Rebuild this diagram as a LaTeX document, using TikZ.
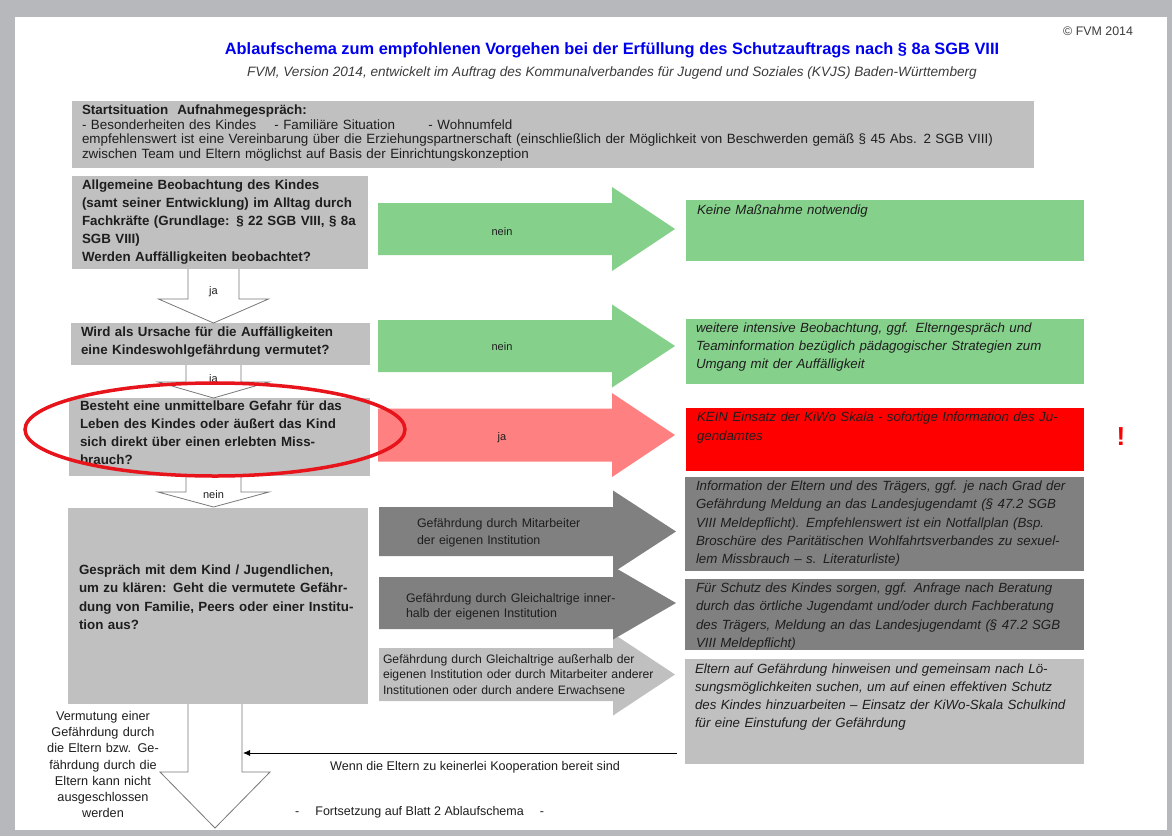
\documentclass[tikz,border=0pt]{standalone}
\usepackage{fontspec}
\setmainfont{Liberation Sans}
\usetikzlibrary{calc,arrows.meta}
\definecolor{pagebg}{RGB}{182,184,188}
\definecolor{lgray}{RGB}{192,192,192}
\definecolor{dgray}{RGB}{128,128,128}
\definecolor{lgreen}{RGB}{133,208,139}
\definecolor{lred}{RGB}{255,128,128}
\definecolor{bred}{RGB}{255,0,0}
\definecolor{ttl}{RGB}{0,0,240}
\definecolor{txt}{RGB}{30,30,30}
\definecolor{subc}{RGB}{60,60,60}
\definecolor{ellred}{RGB}{232,20,27}
\definecolor{outl}{RGB}{120,120,120}
\newcommand\fs[2]{\fontsize{#1}{#2}\selectfont}
\newcommand\harrow[6]{\fill[#6] ($(#1)+(0,-#3)$) -- ($(#2)+(-#5,-#3)$) -- ($(#2)+(-#5,-#4)$) -- (#2) -- ($(#2)+(-#5,#4)$) -- ($(#2)+(-#5,#3)$) -- ($(#1)+(0,#3)$) -- cycle;}
\newcommand\varrow[5]{\path[downarrow] ($(#1)+(-#3,0)$) -- ($(#2)+(-#3,-#5)$) -- ($(#2)+(-#4,-#5)$) -- (#2) -- ($(#2)+(#4,-#5)$) -- ($(#2)+(#3,-#5)$) -- ($(#1)+(#3,0)$);}
\begin{document}
\begin{tikzpicture}[x=1pt,y=-1pt,
 panel/.style={fill=#1,draw=none,anchor=north west,inner sep=0,outer sep=0},
 tx/.style={anchor=base west,inner sep=0,outer sep=0,align=left,text width=#1,text=txt},
 bx/.style={tx=#1,font=\bfseries\fs{13.35}{18}},
 rx/.style={tx=#1,font=\itshape\fs{13.3}{18.3}},
 gx/.style={tx=#1,font=\fs{12.4}{16}},
 lbl/.style={anchor=base,inner sep=0,outer sep=0,font=\fs{11}{13},text=txt},
 downarrow/.style={fill=white,draw=outl,line width=0.8pt},
]
\useasboundingbox (0,0) rectangle (1172,836);
\fill[pagebg] (0,0) rectangle (1172,836);
\fill[white] (15,17) rectangle (1167,830);

% header
\node[anchor=base,inner sep=0,font=\bfseries\fs{16.4}{19},text=ttl] (title) at (612,54) {Ablaufschema zum empfohlenen Vorgehen bei der Erfüllung des Schutzauftrags nach § 8a SGB VIII};
\node[anchor=base,inner sep=0,font=\itshape\fs{13.6}{16},text=subc] (subtitle) at (612,76.5) {FVM, Version 2014, entwickelt im Auftrag des Kommunalverbandes für Jugend und Soziales (KVJS) Baden-Württemberg};
\node[anchor=base west,inner sep=0,font=\fs{12.4}{14},text=subc] (copy) at (1063,35) {© FVM 2014};

% panels
\node[panel=lgray,minimum width=962,minimum height=67] (S) at (72,101) {};
\node[panel=lgray,minimum width=296,minimum height=93] (A) at (72,176) {};
\node[panel=lgray,minimum width=299,minimum height=42] (B) at (71,323) {};
\node[panel=lgray,minimum width=301,minimum height=78] (C) at (69,398) {};
\node[panel=lgray,minimum width=300,minimum height=196] (D) at (68,508) {};
\node[panel=lgreen,minimum width=398,minimum height=61] (R1) at (686,200) {};
\node[panel=lgreen,minimum width=398,minimum height=65] (R2) at (686,319) {};
\node[panel=bred,minimum width=398,minimum height=63] (R3) at (686,408) {};
\node[panel=dgray,minimum width=399,minimum height=94] (R4) at (685,477) {};
\node[panel=dgray,minimum width=399,minimum height=71] (R5) at (685,579) {};
\node[panel=lgray,minimum width=399,minimum height=105] (R6) at (685,659) {};

% horizontal block arrows
\coordinate (g1s) at (378,229); \coordinate (g1t) at (675,229);
\coordinate (g2s) at (378,346); \coordinate (g2t) at (675,346);
\coordinate (r1s) at (378,435); \coordinate (r1t) at (675,435);
\coordinate (d1s) at (379,531.5); \coordinate (d1t) at (676,531.5);
\coordinate (d2s) at (379,603); \coordinate (d2t) at (676,603);
\coordinate (l3s) at (379,674.5); \coordinate (l3t) at (675,674.5);
\harrow{g1s}{g1t}{26}{42}{63}{lgreen}
\harrow{g2s}{g2t}{26}{41.5}{63}{lgreen}
\harrow{r1s}{r1t}{26.5}{42}{63}{lred}
\harrow{l3s}{l3t}{26.5}{41}{62}{lgray}
\harrow{d2s}{d2t}{26}{36.5}{63}{dgray}
\harrow{d1s}{d1t}{24.5}{41}{63}{dgray}

% down block arrows
\coordinate (a1s) at (213.5,269); \coordinate (a1t) at (213.5,323);
\coordinate (a2s) at (213.5,365); \coordinate (a2t) at (213.5,398);
\coordinate (a3s) at (213.5,476); \coordinate (a3t) at (213.5,507);
\coordinate (a4s) at (215,704); \coordinate (a4t) at (215,828);
\varrow{a1s}{a1t}{25.5}{55}{24}
\varrow{a2s}{a2t}{27.5}{55.5}{16}
\varrow{a3s}{a3t}{27.5}{55.5}{15}
\varrow{a4s}{a4t}{27}{55}{56}

% labels on arrows
\node[lbl] (ln1) at (502,235) {nein};
\node[lbl] (ln2) at (502,350) {nein};
\node[lbl] (lj3) at (502,440) {ja};
\node[lbl] (lj1) at (213.5,294) {ja};
\node[lbl] (lj2) at (213.5,382) {ja};
\node[lbl] (ln3) at (213.5,498) {nein};

% texts in panels
\node[tx=950,font=\fs{13.4}{14.6}] (Stext) at (82,114.5) {\textbf{Startsituation\ \ Aufnahmegespräch:}\\- Besonderheiten des Kindes\hspace{1.35em}- Familiäre Situation\hspace{2.5em}- Wohnumfeld\\empfehlenswert ist eine Vereinbarung über die Erziehungspartnerschaft (einschließlich der Möglichkeit von Beschwerden gemäß § 45 Abs. 2 SGB VIII)\\zwischen Team und Eltern möglichst auf Basis der Einrichtungskonzeption};
\node[bx=290] (Atext) at (82,189.5) {Allgemeine Beobachtung des Kindes\\(samt seiner Entwicklung) im Alltag durch\\Fachkräfte (Grundlage: § 22 SGB VIII, § 8a\\SGB VIII)\\Werden Auffälligkeiten beobachtet?};
\node[bx=290] (Btext) at (81,336.5) {Wird als Ursache für die Auffälligkeiten\\eine Kindeswohlgefährdung vermutet?};
\node[bx=290] (Ctext) at (80,410.5) {Besteht eine unmittelbare Gefahr für das\\Leben des Kindes oder äußert das Kind\\sich direkt über einen erlebten Miss-\\brauch?};
\node[tx=290,font=\bfseries\fs{13.35}{18.3}] (Dtext) at (79,574.5) {Gespräch mit dem Kind / Jugendlichen,\\um zu klären: Geht die vermutete Gefähr-\\dung von Familie, Peers oder einer Institu-\\tion aus?};

\node[rx=385] (R1text) at (697,214.5) {Keine Maßnahme notwendig};
\node[rx=385,font=\itshape\fs{13.3}{18}] (R2text) at (696,332.5) {weitere intensive Beobachtung, ggf. Elterngespräch und\\Teaminformation bezüglich pädagogischer Strategien zum\\Umgang mit der Auffälligkeit};
\node[rx=385,font=\itshape\fs{13.3}{19}] (R3text) at (697,421.5) {KEIN Einsatz der KiWo Skala - sofortige Information des Ju-\\gendamtes};
\node[rx=385] (R4text) at (696,490.5) {Information der Eltern und des Trägers, ggf. je nach Grad der\\Gefährdung Meldung an das Landesjugendamt (§ 47.2 SGB\\VIII Meldepflicht). Empfehlenswert ist ein Notfallplan (Bsp.\\Broschüre des Paritätischen Wohlfahrtsverbandes zu sexuel-\\lem Missbrauch – s. Literaturliste)};
\node[rx=385] (R5text) at (696,592.5) {Für Schutz des Kindes sorgen, ggf. Anfrage nach Beratung\\durch das örtliche Jugendamt und/oder durch Fachberatung\\des Trägers, Meldung an das Landesjugendamt (§ 47.2 SGB\\VIII Meldepflicht)};
\node[rx=385,font=\itshape\fs{13.3}{18}] (R6text) at (695,673.5) {Eltern auf Gefährdung hinweisen und gemeinsam nach Lö-\\sungsmöglichkeiten suchen, um auf einen effektiven Schutz\\des Kindes hinzuarbeiten – Einsatz der KiWo-Skala Schulkind\\für eine Einstufung der Gefährdung};

\node[anchor=center,inner sep=0,font=\bfseries\fs{26}{30},text=bred] (bang) at (1121,437) {!};

% texts in gray arrows
\node[gx=250,font=\fs{12.4}{17}] (D1text) at (417,527) {Gefährdung durch Mitarbeiter\\der eigenen Institution};
\node[gx=250,font=\fs{12.4}{15.5}] (D2text) at (406,602) {Gefährdung durch Gleichaltrige inner-\\halb der eigenen Institution};
\node[gx=290,font=\fs{12.2}{15.5}] (L3text) at (383,663) {Gefährdung durch Gleichaltrige außerhalb der\\eigenen Institution oder durch Mitarbeiter anderer\\Institutionen oder durch andere Erwachsene};

% bottom
\node[tx=130,align=center,anchor=base,font=\fs{12.7}{16.2}] (Vtext) at (103,720.5) {Vermutung einer\\Gefährdung durch\\die Eltern bzw. Ge-\\fährdung durch die\\Eltern kann nicht\\ausgeschlossen\\werden};
\coordinate (kend) at (243,753);
\draw[-{Latex[length=7pt,width=6pt]},line width=0.8pt] ($(R6.west |- kend)+(-8,0)$) -- (kend);
\node[anchor=base,inner sep=0,font=\fs{12.6}{14},text=txt] (ktext) at (475,770) {Wenn die Eltern zu keinerlei Kooperation bereit sind};
\node[anchor=base west,inner sep=0,font=\fs{12.5}{14},text=txt] (cont) at (295,815) {-\hspace{16pt}Fortsetzung auf Blatt 2 Ablaufschema\hspace{16pt}-};

% highlight
\draw[ellred,line width=3.5pt] (215,429.5) ellipse [x radius=190pt, y radius=46.5pt];
\end{tikzpicture}
\end{document}
